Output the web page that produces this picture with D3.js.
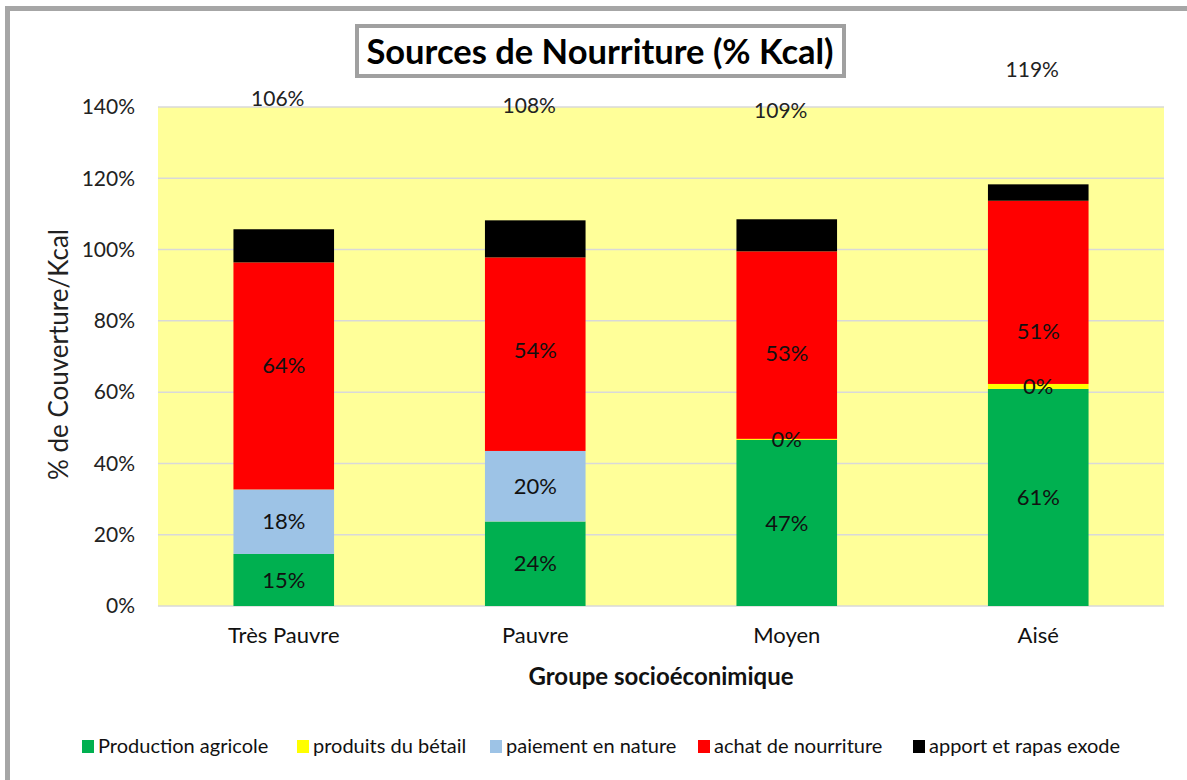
<!DOCTYPE html>
<html>
<head>
<meta charset="utf-8">
<script src="https://cdn.jsdelivr.net/npm/d3@7"></script>
<style>
  html, body { margin: 0; padding: 0; background: #fff; }
  svg { display: block; }
  text { font-family: Lato, "Open Sans", sans-serif; }
</style>
</head>
<body>
<svg id="chart" width="1187" height="780"></svg>
<script>
// ---------------- data ----------------
const categories = ["Très Pauvre", "Pauvre", "Moyen", "Aisé"];
const seriesNames = ["Production agricole", "produits du bétail", "paiement en nature", "achat de nourriture", "apport et rapas exode"];
const seriesColors = ["#00B050", "#FFFF00", "#9DC3E6", "#FF0000", "#000000"];

const productionAgricole = [14.6, 23.7, 46.6, 60.9];
const produitsBetail     = [null, null, 0.3, 1.4];
const paiementNature     = [18.1, 19.8, null, null];
const achatNourriture    = [63.7, 54.3, 52.6, 51.4];
const apportExode        = [9.3, 10.4, 9.0, 4.6];

// printed data labels (as shown on the chart)
const labelsProduction = ["15%", "24%", "47%", "61%"];
const labelsBetail     = [null, null, "0%", "0%"];
const labelsPaiement   = ["18%", "20%", null, null];
const labelsAchat      = ["64%", "54%", "53%", "51%"];
const labelsApport     = [null, null, null, null];
// the "achat" labels sit off-centre in the source chart (value where each is placed)
const labelsAchatAt    = [67.6, 71.8, 71.0, 77.2];

const totalLabels   = ["106%", "108%", "109%", "119%"];
const totalLabelAt  = [142.4, 140.4, 139.0, 150.6]; // value at which each total label sits

const yTicks = [0, 20, 40, 60, 80, 100, 120, 140];

const seriesValues = [productionAgricole, produitsBetail, paiementNature, achatNourriture, apportExode];
const seriesLabels = [labelsProduction, labelsBetail, labelsPaiement, labelsAchat, labelsApport];
const seriesLabelAt = [null, null, null, labelsAchatAt, null];

// ---------------- layout ----------------
const svg = d3.select("#chart");
const plot = { left: 158, right: 1164, top: 107, bottom: 606 };

// outer frame
svg.append("rect")
  .attr("x", 7.5).attr("y", 8.5)
  .attr("width", 1200).attr("height", 800)
  .attr("fill", "none").attr("stroke", "#a6a6a6").attr("stroke-width", 5);

const x = d3.scaleBand().domain(categories)
  .range([plot.left, plot.right]).paddingInner(0.6).paddingOuter(0.3);
const y = d3.scaleLinear().domain([0, 140]).range([plot.bottom, plot.top]);

// plot background
svg.append("rect")
  .attr("x", plot.left).attr("y", plot.top)
  .attr("width", plot.right - plot.left).attr("height", plot.bottom - plot.top)
  .attr("fill", "#FFFF99");

// gridlines
svg.append("g").selectAll("line").data(yTicks).join("line")
  .attr("x1", plot.left).attr("x2", plot.right)
  .attr("y1", d => y(d)).attr("y2", d => y(d))
  .attr("stroke", "#d9d9d9").attr("stroke-width", 1.5);

// y axis
const yAxis = d3.axisLeft(y).tickValues(yTicks).tickFormat(d => d + "%").tickSize(0).tickPadding(23);
const gy = svg.append("g").attr("transform", `translate(${plot.left},0)`).call(yAxis);
gy.select(".domain").remove();
gy.selectAll("text").attr("font-size", 21).attr("fill", "#222").style("font-family", "Lato, sans-serif");

// x axis
const xAxis = d3.axisBottom(x).tickSize(0).tickPadding(21);
const gx = svg.append("g").attr("transform", `translate(0,${plot.bottom})`).call(xAxis);
gx.select(".domain").remove();
gx.selectAll("text").attr("font-size", 22).attr("fill", "#111").style("font-family", "Lato, sans-serif");

// stacked bars
const stacked = categories.map((c, i) => {
  let base = 0;
  return seriesValues.map((s, k) => {
    const v = s[i] || 0;
    const at = seriesLabelAt[k] ? seriesLabelAt[k][i] : base + v / 2;
    const seg = { cat: c, k, y0: base, y1: base + v, v, label: seriesLabels[k][i], at };
    base += v;
    return seg;
  });
}).flat();

svg.append("g").selectAll("rect").data(stacked.filter(d => d.v > 0)).join("rect")
  .attr("x", d => x(d.cat))
  .attr("width", x.bandwidth())
  .attr("y", d => y(d.y1))
  .attr("height", d => y(d.y0) - y(d.y1))
  .attr("fill", d => seriesColors[d.k]);

// segment labels
svg.append("g").selectAll("text").data(stacked.filter(d => d.label)).join("text")
  .attr("x", d => x(d.cat) + x.bandwidth() / 2)
  .attr("y", d => y(d.at))
  .attr("dy", "0.35em")
  .attr("text-anchor", "middle")
  .attr("font-size", 22)
  .attr("fill", "#111")
  .text(d => d.label);

// total labels
svg.append("g").selectAll("text").data(categories).join("text")
  .attr("x", (d) => x(d) + x.bandwidth() / 2 - 6)
  .attr("y", (d, i) => y(totalLabelAt[i]))
  .attr("dy", "0.35em")
  .attr("text-anchor", "middle")
  .attr("font-size", 21)
  .attr("fill", "#222")
  .text((d, i) => totalLabels[i]);

// axis titles
svg.append("text")
  .attr("x", (plot.left + plot.right) / 2).attr("y", 685)
  .attr("text-anchor", "middle")
  .attr("font-size", 24).attr("font-weight", "bold").attr("fill", "#111")
  .text("Groupe socioéconimique");

svg.append("text")
  .attr("transform", `translate(68,${(plot.top + plot.bottom) / 2 - 2}) rotate(-90)`)
  .attr("text-anchor", "middle")
  .attr("font-size", 26).attr("fill", "#222")
  .text("% de Couverture/Kcal");

// title box
svg.append("rect")
  .attr("x", 357).attr("y", 26).attr("width", 487).attr("height", 50)
  .attr("fill", "#fff").attr("stroke", "#a0a0a0").attr("stroke-width", 4);
svg.append("text")
  .attr("x", 600).attr("y", 52)
  .attr("dy", "0.35em")
  .attr("text-anchor", "middle")
  .attr("font-size", 34.5).attr("font-weight", "bold").attr("fill", "#000")
  .text("Sources de Nourriture (% Kcal)");

// legend
const legendX = [82, 297, 490, 698, 913];
const lg = svg.append("g").selectAll("g").data(seriesNames).join("g")
  .attr("transform", (d, i) => `translate(${legendX[i]},746)`);
lg.append("rect").attr("x", 0).attr("y", -6).attr("width", 12).attr("height", 13)
  .attr("fill", (d, i) => seriesColors[i]);
lg.append("text").attr("x", 16).attr("y", 0).attr("dy", "0.35em")
  .attr("font-size", 20).attr("fill", "#111").text(d => d);
</script>
</body>
</html>
